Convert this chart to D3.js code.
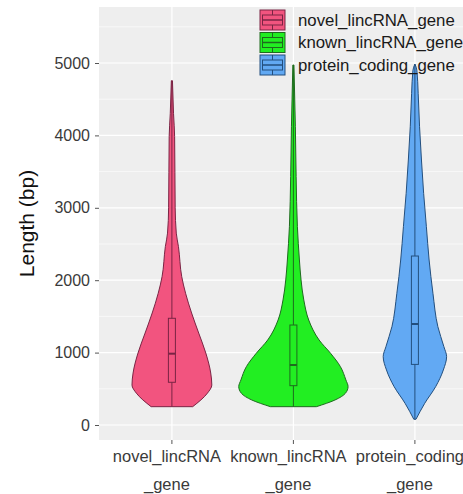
<!DOCTYPE html>
<html>
  <head>
    <meta charset="utf-8">
    <title>Length violin</title>
    <script src="https://d3js.org/d3.v7.min.js" charset="utf-8"></script>
    <style>
      body {
        margin: 0;
        overflow: hidden;
        background: #ffffff;
      }
      text {
        font-family: "Liberation Sans", Arial, sans-serif;
      }
    </style>
  </head>
  <body>
    <script type="text/javascript">
      // categories and their two-line axis labels
      var categories = ["novel_lincRNA_gene", "known_lincRNA_gene", "protein_coding_gene"];
      var axisLabels = [["novel_lincRNA", "_gene"], ["known_lincRNA", "_gene"], ["protein_coding", "_gene"]];
      var yTicks = [0, 1000, 2000, 3000, 4000, 5000];
      var yMinor = [500, 1500, 2500, 3500, 4500, 5500];

      var fillColors = ["#f2547f", "#22ee22", "#62a9f3"];
      var lineColors = ["#7a2444", "#1f6a1f", "#234f7e"];

      // violin outlines: [length (bp), relative density]
      var novelProfile = [[253, 0.38], [440, 0.65], [552, 0.73], [718, 0.71], [994, 0.62], [1270, 0.49],
        [1547, 0.36], [1820, 0.25], [2048, 0.18], [2463, 0.12], [2650, 0.08], [3000, 0.06],
        [3982, 0.05], [4300, 0.03], [4755, 0.01]];
      var knownProfile = [[253, 0.42], [345, 0.76], [437, 0.95], [530, 1.0], [622, 0.96], [806, 0.86],
        [990, 0.68], [1174, 0.47], [1450, 0.28], [1727, 0.19], [2003, 0.14], [2279, 0.11],
        [2739, 0.073], [3430, 0.05], [4120, 0.036], [4972, 0.01]];
      var proteinProfile = [[79, 0.02], [300, 0.18], [530, 0.38], [760, 0.52], [944, 0.58], [1082, 0.53],
        [1358, 0.42], [1819, 0.33], [2279, 0.26], [2739, 0.21], [3199, 0.16], [3660, 0.12],
        [4120, 0.085], [4581, 0.06], [4900, 0.036], [4986, 0.0]];
      var profiles = [novelProfile, knownProfile, proteinProfile];

      // boxplot stats
      var boxQ1 = [590, 543, 837];
      var boxMedian = [985, 829, 1395];
      var boxQ3 = [1474, 1381, 2334];
      var whiskerLo = [253, 253, 79];
      var whiskerHi = [4755, 4972, 4986];

      var width = 463, height = 494;
      var panelLeft = 99, panelTop = 7, panelBottom = 440;

      var svg = d3.select("body").append("svg")
                  .attr("width", width)
                  .attr("height", height);

      var x = d3.scalePoint()
                .domain(categories)
                .range([panelLeft, panelLeft + 388.8])
                .padding(0.6);
      var step = x.step();

      var y = d3.scaleLinear()
                .domain([0, 5000])
                .range([425, 63]);

      var w = d3.scaleLinear()
                .domain([0, 1])
                .range([0, step * 0.45]);

      // panel
      svg.append("rect")
        .attr("x", panelLeft)
        .attr("y", panelTop)
        .attr("width", width - panelLeft + 40)
        .attr("height", panelBottom - panelTop)
        .attr("fill", "#eeeeee");

      var grid = svg.append("g");
      grid.selectAll("line.minor")
        .data(yMinor)
        .enter().append("line")
        .attr("x1", panelLeft).attr("x2", width)
        .attr("y1", function(d) { return y(d); })
        .attr("y2", function(d) { return y(d); })
        .attr("stroke", "#ffffff").attr("stroke-width", 0.6);
      grid.selectAll("line.major")
        .data(yTicks)
        .enter().append("line")
        .attr("x1", panelLeft).attr("x2", width)
        .attr("y1", function(d) { return y(d); })
        .attr("y2", function(d) { return y(d); })
        .attr("stroke", "#ffffff").attr("stroke-width", 1.2);
      grid.selectAll("line.vert")
        .data(categories)
        .enter().append("line")
        .attr("x1", function(d) { return x(d); })
        .attr("x2", function(d) { return x(d); })
        .attr("y1", panelTop).attr("y2", panelBottom)
        .attr("stroke", "#ffffff").attr("stroke-width", 1.2);

      // violins
      var g = svg.append("g");
      categories.forEach(function(cat, i) {
        var cx = x(cat);
        var area = d3.area()
                     .curve(d3.curveMonotoneY)
                     .y(function(d) { return y(d[0]); })
                     .x0(function(d) { return cx - w(d[1]); })
                     .x1(function(d) { return cx + w(d[1]); });

        g.append("path")
          .datum(profiles[i])
          .attr("d", area)
          .attr("fill", fillColors[i])
          .attr("stroke", lineColors[i])
          .attr("stroke-width", 1);

        // whisker
        g.append("line")
          .attr("x1", cx).attr("x2", cx)
          .attr("y1", y(whiskerLo[i])).attr("y2", y(whiskerHi[i]))
          .attr("stroke", lineColors[i]).attr("stroke-width", 1);

        // box
        g.append("rect")
          .attr("x", cx - 3.5)
          .attr("y", y(boxQ3[i]))
          .attr("width", 7)
          .attr("height", y(boxQ1[i]) - y(boxQ3[i]))
          .attr("fill", fillColors[i])
          .attr("stroke", lineColors[i])
          .attr("stroke-width", 1);

        g.append("line")
          .attr("x1", cx - 3.5).attr("x2", cx + 3.5)
          .attr("y1", y(boxMedian[i])).attr("y2", y(boxMedian[i]))
          .attr("stroke", lineColors[i]).attr("stroke-width", 2);
      });

      // y axis
      var yAxis = svg.append("g")
                     .attr("transform", "translate(" + panelLeft + ",0)")
                     .call(d3.axisLeft(y).tickValues(yTicks).tickSize(4).tickPadding(5).tickFormat(d3.format("d")));
      yAxis.select(".domain").remove();
      yAxis.selectAll(".tick line").attr("stroke", "#555555");
      yAxis.selectAll(".tick text")
        .attr("fill", "#3a3a3a")
        .style("font-size", "16px");

      // x axis ticks and labels
      var xAxis = svg.append("g");
      xAxis.selectAll("line")
        .data(categories)
        .enter().append("line")
        .attr("x1", function(d) { return x(d); })
        .attr("x2", function(d) { return x(d); })
        .attr("y1", panelBottom).attr("y2", panelBottom + 4)
        .attr("stroke", "#555555");
      categories.forEach(function(cat, i) {
        xAxis.append("text")
          .attr("x", x(cat) - 5)
          .attr("y", 462)
          .attr("text-anchor", "middle")
          .attr("fill", "#3a3a3a")
          .style("font-size", "16.5px")
          .text(axisLabels[i][0]);
        xAxis.append("text")
          .attr("x", x(cat) - 5)
          .attr("y", 490)
          .attr("text-anchor", "middle")
          .attr("fill", "#3a3a3a")
          .style("font-size", "16.5px")
          .text(axisLabels[i][1]);
      });

      // y title
      svg.append("text")
        .attr("transform", "translate(34," + ((panelTop + panelBottom) / 2) + ") rotate(-90)")
        .attr("text-anchor", "middle")
        .attr("fill", "#111111")
        .style("font-size", "21px")
        .text("Length (bp)");

      // legend
      var legend = svg.append("g").attr("transform", "translate(260,10)");
      categories.forEach(function(cat, i) {
        var row = legend.append("g").attr("transform", "translate(0," + (i * 22.5) + ")");
        var kw = 25, kh = 20;
        row.append("rect")
          .attr("width", kw).attr("height", kh)
          .attr("fill", fillColors[i])
          .attr("stroke", lineColors[i]).attr("stroke-width", 1);
        row.append("rect")
          .attr("x", kw * 0.1).attr("y", kh * 0.25)
          .attr("width", kw * 0.8).attr("height", kh * 0.5)
          .attr("fill", "none")
          .attr("stroke", lineColors[i]).attr("stroke-width", 1);
        row.append("line")
          .attr("x1", kw * 0.1).attr("x2", kw * 0.9)
          .attr("y1", kh / 2).attr("y2", kh / 2)
          .attr("stroke", lineColors[i]).attr("stroke-width", 1.5);
        row.append("line")
          .attr("x1", kw / 2).attr("x2", kw / 2)
          .attr("y1", 0).attr("y2", kh * 0.25)
          .attr("stroke", lineColors[i]);
        row.append("line")
          .attr("x1", kw / 2).attr("x2", kw / 2)
          .attr("y1", kh * 0.75).attr("y2", kh)
          .attr("stroke", lineColors[i]);
        row.append("text")
          .attr("x", 38)
          .attr("y", kh / 2 + 5.5)
          .attr("fill", "#1a1a1a")
          .style("font-size", "16.8px")
          .text(cat);
      });
    </script>
  </body>
</html>
